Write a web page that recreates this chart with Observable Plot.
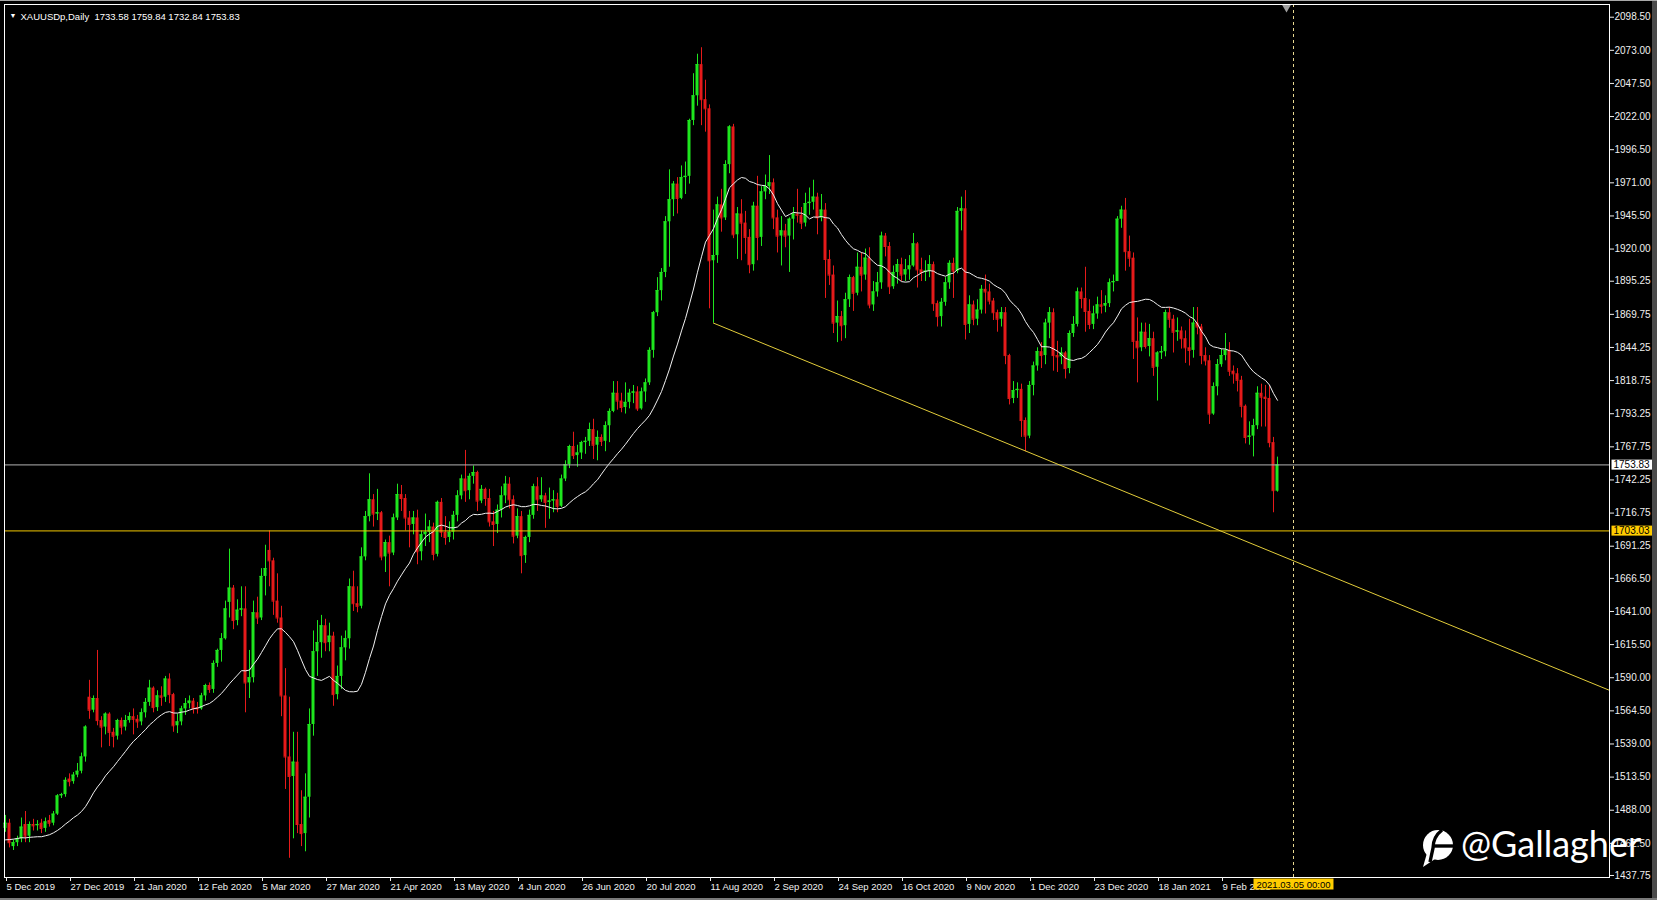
<!DOCTYPE html>
<html>
<head>
<meta charset="utf-8">
<script src="https://cdn.jsdelivr.net/npm/d3@7"></script>
<script src="https://cdn.jsdelivr.net/npm/@observablehq/plot@0.6"></script>
<style>
  html, body { margin: 0; padding: 0; background: #000; }
  #wrap { position: relative; width: 1657px; height: 900px; background: #000; overflow: hidden; }
  #wrap > svg { position: absolute; left: 0; top: 0; }
</style>
</head>
<body>
<div id="wrap"></div>
<script>
// ---------------- data ----------------
const symbol = "XAUUSDp";
const period = "Daily";

// daily candles [open, high, low, close], first visible bar = 5 Dec 2019, last = 1 Mar 2021
const candleRows = [
[1474,1484,1471,1478],[1478,1481,1459,1463],[1460,1465,1457,1463],[1463,1468,1460,1466],[1466,1482,1463,1475],
[1477,1487,1463,1468],[1468,1479,1463,1477],[1477,1481,1472,1476],[1476,1480,1472,1477],[1478,1481,1470,1474],
[1474,1482,1471,1479],[1480,1484,1475,1478],[1478,1487,1476,1485],[1485,1500,1484,1499],[1499,1501,1497,1500],
[1500,1513,1498,1511],[1512,1516,1506,1510],[1510,1517,1508,1515],[1515,1524,1513,1518],[1518,1532,1516,1529],
[1529,1553,1525,1552],[1575,1588,1558,1565],[1565,1576,1563,1574],[1574,1611,1553,1557],[1557,1560,1536,1552],
[1552,1563,1546,1562],[1562,1563,1537,1548],[1548,1551,1536,1545],[1545,1558,1542,1557],[1557,1559,1546,1552],
[1552,1561,1549,1557],[1557,1563,1555,1560],[1560,1566,1546,1558],[1558,1561,1551,1556],[1556,1566,1553,1563],
[1563,1574,1559,1571],[1571,1588,1568,1582],[1582,1583,1563,1567],[1567,1580,1564,1576],[1576,1583,1568,1575],
[1575,1591,1571,1589],[1589,1593,1570,1577],[1577,1578,1548,1553],[1553,1562,1547,1556],[1556,1568,1553,1566],
[1566,1574,1561,1570],[1570,1576,1566,1572],[1572,1574,1562,1566],[1567,1571,1562,1566],[1566,1578,1565,1576],
[1576,1585,1572,1584],[1584,1586,1578,1581],[1581,1603,1578,1601],[1601,1612,1598,1611],[1611,1624,1602,1620],
[1620,1649,1619,1643],[1648,1689,1636,1659],[1659,1661,1627,1634],[1634,1650,1630,1642],[1642,1660,1637,1643],
[1643,1660,1563,1586],[1586,1611,1574,1590],[1590,1649,1586,1640],[1640,1652,1631,1636],[1636,1674,1634,1668],
[1668,1692,1653,1674],[1688,1703,1660,1680],[1680,1682,1638,1649],[1649,1670,1632,1636],[1636,1645,1560,1576],
[1576,1597,1504,1529],[1529,1575,1451,1514],[1514,1548,1466,1525],[1525,1548,1470,1477],[1477,1503,1460,1470],
[1470,1516,1456,1498],[1498,1566,1482,1554],[1554,1626,1545,1610],[1610,1634,1591,1617],[1617,1638,1605,1630],
[1630,1635,1610,1617],[1617,1632,1610,1622],[1622,1625,1568,1577],[1577,1599,1573,1591],[1591,1622,1581,1613],
[1613,1626,1603,1620],[1620,1666,1612,1660],[1660,1672,1641,1647],[1647,1660,1640,1645],[1645,1690,1643,1683],
[1683,1718,1680,1714],[1714,1747,1710,1727],[1727,1731,1706,1716],[1716,1735,1711,1717],[1717,1718,1680,1683],
[1683,1696,1671,1694],[1694,1699,1660,1686],[1686,1716,1684,1713],[1713,1739,1711,1731],[1731,1738,1718,1728],
[1728,1731,1703,1713],[1713,1718,1690,1708],[1708,1718,1700,1713],[1713,1719,1677,1687],[1687,1703,1680,1700],
[1700,1716,1691,1702],[1702,1711,1694,1706],[1706,1709,1680,1685],[1685,1726,1683,1725],[1725,1728,1698,1702],
[1702,1714,1692,1698],[1698,1710,1694,1702],[1702,1718,1696,1715],[1715,1734,1710,1730],[1730,1746,1727,1743],
[1743,1765,1725,1734],[1734,1747,1727,1745],[1745,1753,1739,1748],[1748,1749,1718,1726],[1726,1738,1724,1735],
[1735,1736,1722,1728],[1728,1735,1706,1710],[1710,1718,1691,1708],[1708,1723,1701,1719],[1719,1737,1713,1730],
[1730,1745,1724,1739],[1739,1744,1720,1727],[1727,1730,1693,1699],[1699,1720,1697,1714],[1714,1718,1670,1684],
[1684,1699,1678,1698],[1698,1719,1694,1715],[1715,1739,1712,1737],[1737,1744,1718,1727],[1727,1744,1725,1730],
[1730,1732,1705,1725],[1725,1736,1712,1726],[1726,1734,1717,1727],[1727,1732,1717,1722],[1722,1746,1721,1743],
[1743,1757,1741,1754],[1754,1769,1751,1768],[1768,1779,1758,1761],[1761,1769,1752,1763],[1763,1772,1758,1771],
[1771,1775,1762,1772],[1772,1786,1768,1781],[1781,1789,1758,1769],[1769,1780,1757,1775],[1775,1777,1768,1772],
[1772,1787,1764,1784],[1784,1797,1771,1795],[1795,1818,1794,1809],[1809,1818,1796,1803],[1803,1809,1794,1798],
[1798,1817,1793,1802],[1802,1812,1797,1809],[1809,1815,1801,1810],[1810,1814,1795,1797],[1797,1813,1796,1810],
[1810,1820,1802,1817],[1817,1844,1815,1842],[1842,1872,1836,1871],[1871,1898,1868,1888],[1888,1905,1880,1902],
[1902,1945,1898,1941],[1941,1981,1906,1958],[1958,1972,1945,1970],[1970,1975,1947,1959],[1959,1984,1958,1975],
[1975,1987,1962,1976],[1976,2020,1970,2019],[2019,2055,2015,2038],[2038,2070,2030,2062],[2062,2075,2015,2035],
[2035,2050,2010,2028],[2028,2031,1874,1911],[1911,1950,1863,1915],[1915,1960,1909,1954],[1954,1966,1933,1944],
[1944,1988,1942,1985],[1985,2015,1978,2014],[2014,2016,1928,1931],[1931,1952,1912,1947],[1947,1958,1911,1940],
[1940,1949,1916,1929],[1929,1935,1901,1908],[1908,1956,1903,1953],[1953,1976,1911,1929],[1929,1968,1922,1964],
[1964,1977,1958,1968],[1968,1992,1962,1971],[1971,1974,1935,1944],[1944,1950,1917,1930],[1930,1945,1907,1934],
[1934,1939,1921,1930],[1930,1944,1902,1943],[1943,1952,1927,1947],[1947,1966,1940,1946],[1946,1952,1935,1940],
[1940,1963,1937,1955],[1955,1967,1946,1956],[1956,1973,1950,1960],[1960,1963,1931,1944],[1944,1962,1941,1950],
[1950,1955,1882,1912],[1912,1919,1892,1900],[1900,1907,1855,1863],[1863,1880,1848,1868],[1868,1872,1849,1861],
[1861,1886,1851,1881],[1881,1900,1875,1898],[1898,1899,1872,1886],[1886,1917,1884,1906],[1906,1917,1887,1900],
[1900,1920,1896,1913],[1913,1921,1874,1877],[1877,1895,1872,1887],[1887,1902,1883,1894],[1894,1933,1889,1930],
[1930,1932,1914,1922],[1922,1925,1885,1891],[1891,1907,1889,1902],[1902,1912,1893,1908],[1908,1913,1895,1900],
[1900,1912,1895,1904],[1904,1915,1896,1907],[1907,1932,1906,1924],[1924,1925,1890,1904],[1904,1913,1895,1902],
[1902,1911,1895,1903],[1903,1915,1898,1908],[1908,1910,1872,1878],[1878,1880,1860,1868],[1868,1882,1860,1879],
[1879,1898,1876,1894],[1894,1911,1889,1909],[1909,1913,1882,1903],[1903,1952,1901,1949],[1949,1960,1934,1951],
[1951,1965,1850,1862],[1862,1884,1855,1877],[1877,1880,1861,1866],[1866,1881,1861,1873],[1873,1892,1870,1889],
[1889,1900,1870,1887],[1887,1893,1877,1880],[1880,1882,1865,1871],[1871,1873,1856,1866],[1866,1875,1860,1871],
[1871,1875,1831,1838],[1838,1839,1800,1805],[1805,1818,1801,1811],[1811,1817,1805,1812],[1812,1816,1775,1788],
[1788,1790,1764,1776],[1776,1818,1774,1815],[1815,1833,1807,1830],[1830,1844,1826,1841],[1841,1848,1828,1838],
[1838,1866,1831,1863],[1863,1875,1851,1871],[1871,1874,1826,1838],[1838,1849,1825,1837],[1837,1844,1831,1840],
[1840,1841,1820,1828],[1828,1857,1824,1855],[1855,1868,1852,1862],[1862,1890,1860,1887],[1887,1890,1874,1882],
[1882,1906,1856,1872],[1872,1881,1858,1862],[1862,1876,1858,1870],[1870,1883,1866,1877],[1877,1888,1870,1876],
[1876,1884,1871,1878],[1878,1897,1875,1894],[1894,1900,1887,1895],[1895,1945,1895,1943],[1943,1953,1936,1950],
[1950,1959,1903,1918],[1918,1930,1906,1913],[1913,1917,1835,1849],[1849,1867,1817,1844],[1844,1863,1841,1856],
[1856,1863,1843,1845],[1845,1862,1837,1851],[1851,1856,1822,1829],[1829,1841,1803,1840],[1840,1845,1835,1841],
[1841,1873,1837,1871],[1871,1875,1859,1866],[1866,1869,1840,1856],[1856,1867,1849,1857],[1857,1860,1843,1851],
[1851,1857,1832,1844],[1844,1866,1830,1842],[1842,1875,1836,1863],[1863,1875,1854,1860],[1860,1862,1831,1838],
[1838,1844,1830,1834],[1834,1838,1785,1793],[1793,1817,1792,1814],[1814,1835,1807,1831],[1831,1843,1829,1838],
[1838,1855,1834,1842],[1842,1848,1822,1826],[1826,1830,1816,1824],[1824,1828,1810,1819],[1819,1822,1790,1799],
[1799,1800,1770,1775],[1775,1787,1769,1776],[1776,1789,1760,1784],[1784,1814,1781,1809],[1809,1816,1783,1806],
[1806,1815,1783,1805],[1805,1815,1767,1771],[1771,1775,1717,1734],[1733.58,1759.84,1732.84,1753.83]
];

// closes of the 19 bars before the first visible one (feed the moving average)
const maSeedCloses = [1459,1456,1456,1463,1471,1468,1472,1472,1474,1464,1462,1456,1462,1455,1458,1464,1463,1477,1474];
const maPeriod = 20;

// x-axis labels (bar index -> label)
const dateLabelIndex = [0,16,32,48,64,80,96,112,128,144,160,176,192,208,224,240,256,272,288,304];
const dateLabels = ["5 Dec 2019","27 Dec 2019","21 Jan 2020","12 Feb 2020","5 Mar 2020","27 Mar 2020","21 Apr 2020",
  "13 May 2020","4 Jun 2020","26 Jun 2020","20 Jul 2020","11 Aug 2020","2 Sep 2020","24 Sep 2020","16 Oct 2020",
  "9 Nov 2020","1 Dec 2020","23 Dec 2020","18 Jan 2021","9 Feb 2021"];

// y-axis ticks
const priceTicks = [2098.50,2073.00,2047.50,2022.00,1996.50,1971.00,1945.50,1920.00,1895.25,1869.75,1844.25,1818.75,
  1793.25,1767.75,1742.25,1716.75,1691.25,1666.50,1641.00,1615.50,1590.00,1564.50,1539.00,1513.50,1488.00,1462.50,1437.75];

// horizontal levels
const bidPrice = 1753.83;
const levelPrice = 1703.03;

// trend line endpoints (bar index, price)
const trendIndex = [177, 401];
const trendPrice = [1863, 1580.3];

// crosshair
const crosshairIndex = 322;
const crosshairLabel = "2021.03.05 00:00";
const shiftMarkerIndex = 320.25;

const watermarkText = "@Gallagher";

// ---------------- build ----------------
const bull = "#1ee61e", bear = "#e61a1a";
const candles = candleRows.map(([o, h, l, c], i) => ({i, o, h, l, c}));
const col = d => (d.c >= d.o ? bull : bear);
const maInput = [
  ...maSeedCloses.map((c, k) => ({i: k - maSeedCloses.length, c})),
  ...candles.map(d => ({i: d.i, c: d.c}))
];
const trend = trendIndex.map((i, k) => ({i, p: trendPrice[k]}));
const last = candles[candles.length - 1];
const titleText = `${symbol},${period}\u00a0\u00a0${last.o.toFixed(2)} ${last.h.toFixed(2)} ${last.l.toFixed(2)} ${last.c.toFixed(2)}`;
const labelOf = new Map(dateLabelIndex.map((i, k) => [i, dateLabels[k]]));

const chart = Plot.plot({
  width: 1657,
  height: 900,
  marginLeft: 4,
  marginRight: 48,
  marginTop: 4,
  marginBottom: 23,
  style: {background: "#000", color: "#fff", fontFamily: "'Liberation Sans', Arial, sans-serif", fontSize: "10px", overflow: "visible"},
  x: {type: "linear", domain: [-0.25, 401]},
  y: {type: "linear", domain: [1436.21, 2108.28]},
  marks: [
    // wicks
    Plot.ruleX(candles, {x: "i", y1: "l", y2: "h", stroke: col, strokeWidth: 1}),
    // bodies
    Plot.rect(candles, {x1: d => d.i - 0.375, x2: d => d.i + 0.375, y1: "o", y2: "c", fill: col}),
    Plot.ruleY(candles, {x1: d => d.i - 0.375, x2: d => d.i + 0.375, y: "c", stroke: col, strokeWidth: 1}),
    // moving average
    Plot.lineY(maInput, Plot.windowY({k: maPeriod, anchor: "end"}, {x: "i", y: "c", stroke: "#f2f2f2", strokeWidth: 1, clip: true})),
    // levels
    Plot.ruleY([bidPrice], {stroke: "#b4b4b4", strokeWidth: 1}),
    Plot.ruleY([levelPrice], {stroke: "#f2c800", strokeWidth: 1}),
    Plot.line(trend, {x: "i", y: "p", stroke: "#e2cc3a", strokeWidth: 1, clip: true}),
    // crosshair
    Plot.ruleX([crosshairIndex], {stroke: "#e8d890", strokeWidth: 1, strokeDasharray: "3,3"}),
    Plot.dot([shiftMarkerIndex], {x: d => d, frameAnchor: "top", dy: 3, symbol: "triangle", r: 3.2, rotate: 180, fill: "#a0a0a0", stroke: null}),
    // frame
    Plot.frame({stroke: "#fff", strokeWidth: 1}),
    // axes
    Plot.axisY({ticks: priceTicks, anchor: "right", tickSize: 4, tickPadding: 1, tickFormat: d => d.toFixed(2), color: "#f0f0f0", fontSize: 10, label: null}),
    Plot.axisX({ticks: dateLabelIndex, anchor: "bottom", tickSize: 4, tickPadding: 2, tickFormat: i => labelOf.get(i), textAnchor: "start", dx: 1, color: "#f0f0f0", fontSize: 9.5, label: null}),
    // price tags
    Plot.text([bidPrice], {y: d => d, text: d => d.toFixed(2), frameAnchor: "right", dx: 4, textAnchor: "start", fill: "#000", fontSize: 10}),
    Plot.text([levelPrice], {y: d => d, text: d => d.toFixed(2), frameAnchor: "right", dx: 4, textAnchor: "start", fill: "#000", fontSize: 10}),
    // crosshair date tag
    Plot.text([crosshairLabel], {x: () => crosshairIndex, text: d => d, frameAnchor: "bottom", dy: 10, textAnchor: "middle", fill: "#000", fontSize: 9.5}),
    // title
    Plot.text(["\u25BC"], {frameAnchor: "top-left", dx: 5, dy: 9, textAnchor: "start", fill: "#fff", fontSize: 7}),
    Plot.text([titleText], {frameAnchor: "top-left", dx: 16, dy: 9, textAnchor: "start", fill: "#fff", fontSize: 9.5})
  ]
});

const wrap = document.getElementById("wrap");
wrap.appendChild(chart);

// background boxes behind the tag texts (found by their content)
const tagBoxes = [
  {text: bidPrice.toFixed(2), bg: "#ffffff", padL: 2, padR: 4, padV: -0.5},
  {text: levelPrice.toFixed(2), bg: "#ffcc00", padL: 2, padR: 4, padV: -0.5},
  {text: crosshairLabel, bg: "#ffcc00", padL: 3, padR: 3, padV: 0}
];
const allTexts = Array.from(chart.querySelectorAll("text"));
for (const tb of tagBoxes) {
  for (const t of allTexts) {
    if (t.textContent !== tb.text || t.getAttribute("fill") !== "#000" && !(t.parentNode && t.parentNode.getAttribute("fill") === "#000")) continue;
    const b = t.getBBox();
    const r = document.createElementNS("http://www.w3.org/2000/svg", "rect");
    r.setAttribute("x", b.x - tb.padL);
    r.setAttribute("y", b.y - tb.padV);
    r.setAttribute("width", b.width + tb.padL + tb.padR);
    r.setAttribute("height", b.height + 2 * tb.padV);
    r.setAttribute("fill", tb.bg);
    const tr = t.getAttribute("transform");
    if (tr) r.setAttribute("transform", tr);
    t.parentNode.insertBefore(r, t);
  }
}

// watermark overlay
const ov = d3.select(wrap).append("svg")
  .attr("width", 1657).attr("height", 900)
  .style("position", "absolute").style("left", 0).style("top", 0).style("pointer-events", "none");
const logo = ov.append("g");
logo.append("circle").attr("cx", 1438).attr("cy", 845).attr("r", 15).attr("fill", "#fff");
logo.append("path").attr("d", "M1427,853 L1423,867 L1435,859 Z").attr("fill", "#fff");
logo.append("path").attr("d", "M1442,830 Q1433,837 1433,848 L1430,862").attr("fill", "none").attr("stroke", "#000").attr("stroke-width", 3.4);
logo.append("path").attr("d", "M1433,846 L1455,846").attr("stroke", "#000").attr("stroke-width", 3.4);
ov.append("text").attr("x", 1461).attr("y", 857)
  .attr("fill", "#fff").attr("font-family", "Lato, 'Open Sans', sans-serif").attr("font-weight", 400)
  .attr("font-size", 36).text(watermarkText);

// window edges
ov.append("rect").attr("x", 1652).attr("y", 0).attr("width", 5).attr("height", 900).attr("fill", "#4a4a4a");
ov.append("rect").attr("x", 0).attr("y", 0).attr("width", 1657).attr("height", 1).attr("fill", "#a8a8a8");
ov.append("rect").attr("x", 0).attr("y", 898).attr("width", 1657).attr("height", 2).attr("fill", "#7a7a7a");
</script>
</body>
</html>
